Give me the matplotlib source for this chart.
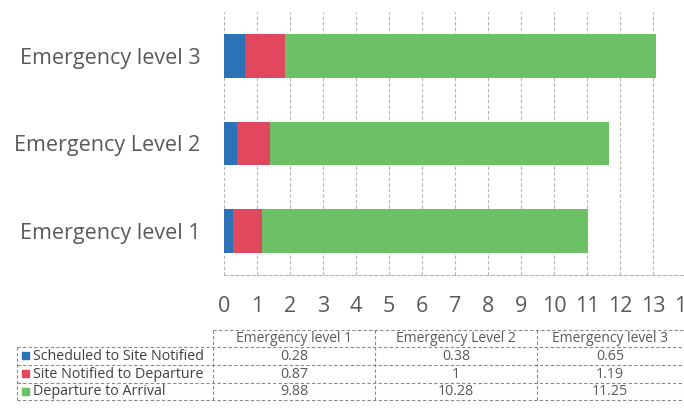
import matplotlib.pyplot as plt
import numpy as np

# data
levels = ['Emergency level 1', 'Emergency Level 2', 'Emergency level 3']
series = ['Scheduled to Site Notified', 'Site Notified to Departure', 'Departure to Arrival']
sched_to_notified = [0.28, 0.38, 0.65]
notified_to_departure = [0.87, 1, 1.19]
departure_to_arrival = [9.88, 10.28, 11.25]
cell_text = [['0.28', '0.38', '0.65'],
             ['0.87', '1', '1.19'],
             ['9.88', '10.28', '11.25']]

colors = ['#2b73b6', '#e2485d', '#6cc065']
txt = '#595959'
grid_c = '#b5b5b5'
plt.rcParams['font.family'] = ['Open Sans', 'DejaVu Sans']

W, H = 684, 418
fig = plt.figure(figsize=(W / 100, H / 100), dpi=100)

# main bar axes, placed in pixel coords (right side runs off the page like the scan)
left, right, top, bottom = 224, 686, 12, 275
ax = fig.add_axes([left / W, 1 - bottom / H, (right - left) / W, (bottom - top) / H])

y = np.arange(len(levels))
vals = [sched_to_notified, notified_to_departure, departure_to_arrival]
start = np.zeros(len(levels))
for v, c, name in zip(vals, colors, series):
    ax.barh(y, v, left=start, height=0.5, color=c, label=name, zorder=3)
    start = start + np.array(v)

ax.set_xlim(0, 14)
ax.set_ylim(-0.5, 2.5)
ax.set_xticks(np.arange(0, 15))
ax.set_yticks(y)
ax.set_yticklabels(levels, fontsize=15.5, color=txt)
ax.tick_params(axis='y', length=0, pad=17)
ax.tick_params(axis='x', length=0, labelsize=15.5, colors=txt, pad=15)
ax.grid(axis='x', color=grid_c, linestyle=(0, (3, 2)), linewidth=0.8, zorder=0)
for s in ['top', 'right', 'left']:
    ax.spines[s].set_visible(False)
ax.spines['bottom'].set_color(grid_c)
ax.spines['bottom'].set_linestyle((0, (3, 2)))
ax.spines['bottom'].set_linewidth(0.8)

# data table underneath, drawn on a full-figure overlay in pixel units
tab = fig.add_axes([0, 0, 1, 1])
tab.set_xlim(0, W)
tab.set_ylim(H, 0)
tab.axis('off')

col_x = [213, 375, 537, 699]
row_y = [330, 347, 365, 383, 400]
lx = 17
ls = dict(color='#8a8a8a', linestyle=(0, (3, 2)), linewidth=0.8)

tab.plot([col_x[0], W], [row_y[0], row_y[0]], **ls)
for yy in row_y[1:]:
    tab.plot([lx, W], [yy, yy], **ls)
tab.plot([lx, lx], [row_y[1], row_y[-1]], **ls)
for xx in col_x[:-1]:
    tab.plot([xx, xx], [row_y[0], row_y[-1]], **ls)

for j, name in enumerate(levels):
    cx = (col_x[j] + col_x[j + 1]) / 2 - (8 if j == 2 else 0)
    tab.text(cx, (row_y[0] + row_y[1]) / 2, name, ha='center', va='center',
             fontsize=10, color=txt)
for i, name in enumerate(series):
    cy = (row_y[i + 1] + row_y[i + 2]) / 2
    tab.add_patch(plt.Rectangle((22, cy - 4), 7, 7, color=colors[i]))
    tab.text(33, cy, name, ha='left', va='center', fontsize=10.3, color='#404040')
    for j in range(3):
        cx = (col_x[j] + col_x[j + 1]) / 2 - (8 if j == 2 else 0)
        tab.text(cx, cy, cell_text[i][j], ha='center', va='center',
                 fontsize=10.3, color=txt)

fig.savefig('out.png', dpi=100)
